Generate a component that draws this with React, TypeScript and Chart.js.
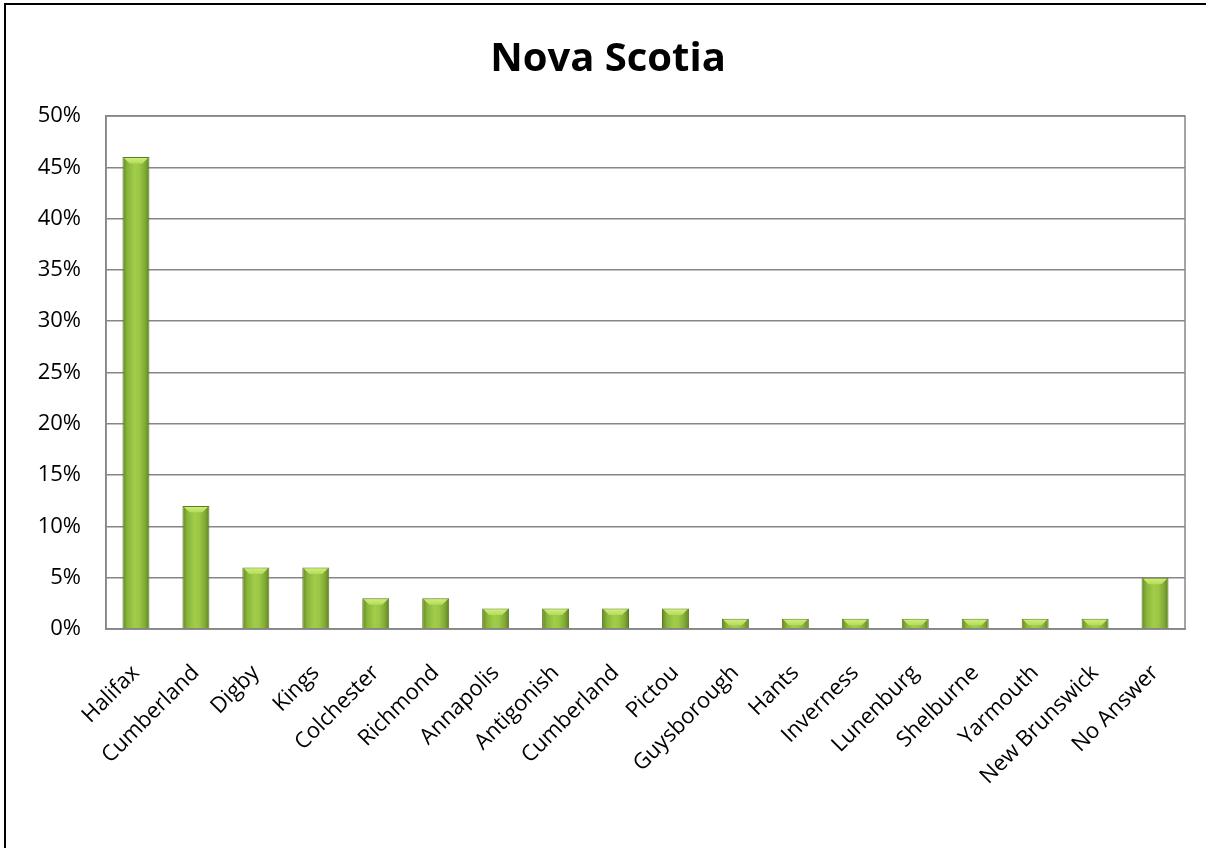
import React, { useEffect, useRef } from "react";
import { Chart, registerables } from "chart.js";

Chart.register(...registerables);

const categories = [
  "Halifax",
  "Cumberland",
  "Digby",
  "Kings",
  "Colchester",
  "Richmond",
  "Annapolis",
  "Antigonish",
  "Cumberland",
  "Pictou",
  "Guysborough",
  "Hants",
  "Inverness",
  "Lunenburg",
  "Shelburne",
  "Yarmouth",
  "New Brunswick",
  "No Answer",
];

const percentValues = [46, 12, 6, 6, 3, 3, 2, 2, 2, 2, 1, 1, 1, 1, 1, 1, 1, 5];

const titleText = "Nova Scotia";
const yMax = 50;
const yStep = 5;

const FONT = "'Open Sans', 'DejaVu Sans', sans-serif";
const BAR_FRACTION = 0.45;

const bevelPlugin = {
  id: "bevelTop",
  afterDatasetsDraw(chart: any) {
    const meta = chart.getDatasetMeta(0);
    const ctx = chart.ctx;
    ctx.save();
    meta.data.forEach((el: any) => {
      const p = el.getProps(["x", "y", "width", "base"], true);
      const w = p.width;
      const left = p.x - w / 2;
      const right = p.x + w / 2;
      const top = p.y;
      const h = Math.min(w * 0.24, Math.abs(p.base - p.y) - 3);
      if (h <= 0) return;
      const g = ctx.createLinearGradient(0, top, 0, top + h);
      g.addColorStop(0, "#d4f07e");
      g.addColorStop(1, "#b3dc5a");
      ctx.fillStyle = g;
      ctx.beginPath();
      ctx.moveTo(left + 1.5, top + 1);
      ctx.lineTo(right - 1.5, top + 1);
      ctx.lineTo(p.x + w * 0.24, top + h);
      ctx.lineTo(p.x - w * 0.24, top + h);
      ctx.closePath();
      ctx.fill();
    });
    ctx.restore();
  },
};

const frameBorderPlugin = {
  id: "plotFrame",
  afterDraw(chart: any) {
    const { left, top, right, bottom } = chart.chartArea;
    const ctx = chart.ctx;
    ctx.save();
    ctx.strokeStyle = "#868686";
    ctx.lineWidth = 1.5;
    ctx.strokeRect(left, top, right - left, bottom - top);
    // outer frame of the chart object (top and left edges)
    ctx.strokeStyle = "#000";
    ctx.lineWidth = 2;
    ctx.beginPath();
    ctx.moveTo(4, 4);
    ctx.lineTo(chart.width, 4);
    ctx.moveTo(5, 4);
    ctx.lineTo(5, chart.height);
    ctx.stroke();
    ctx.restore();
  },
};

export default function App() {
  const canvasRef = useRef<HTMLCanvasElement | null>(null);

  useEffect(() => {
    if (!canvasRef.current) return;
    Chart.defaults.color = "#000";
    const chart = new Chart(canvasRef.current, {
      type: "bar",
      data: {
        labels: categories,
        datasets: [
          {
            data: percentValues,
            backgroundColor: (c: any) => {
              const ch = c.chart;
              const xs = ch.scales && ch.scales.x;
              if (!xs || !ch.chartArea) return "#8fbb3e";
              const x = xs.getPixelForValue(c.dataIndex);
              const catW = (ch.chartArea.right - ch.chartArea.left) / categories.length;
              const w = catW * BAR_FRACTION;
              const g = ch.ctx.createLinearGradient(x - w / 2, 0, x + w / 2, 0);
              g.addColorStop(0, "#648624");
              g.addColorStop(0.18, "#88b53a");
              g.addColorStop(0.45, "#a2cd4a");
              g.addColorStop(0.62, "#9cc746");
              g.addColorStop(0.85, "#7ea834");
              g.addColorStop(1, "#5e7f22");
              return g;
            },
            borderColor: "#5b7a22",
            borderWidth: 1,
            barPercentage: BAR_FRACTION,
            categoryPercentage: 1,
          },
        ],
      },
      options: {
        animation: false,
        responsive: true,
        maintainAspectRatio: false,
        layout: { padding: { left: 10, right: 0, top: 0, bottom: 0 } },
        plugins: {
          legend: { display: false },
          tooltip: { enabled: false },
          title: {
            display: true,
            text: titleText,
            color: "#000",
            font: { family: FONT, size: 40, weight: "bold", lineHeight: 1.2 },
            padding: { top: 36, bottom: 32 },
          },
        },
        scales: {
          x: {
            grid: { display: false, drawTicks: false },
            border: { display: true, color: "#868686", width: 1.5 },
            ticks: {
              autoSkip: false,
              maxRotation: 45,
              minRotation: 45,
              padding: 31,
              color: "#000",
              font: { family: FONT, size: 22 },
            },
            afterFit(scale: any) {
              scale.height = 848 - 629;
            },
          },
          y: {
            min: 0,
            max: yMax,
            ticks: {
              stepSize: yStep,
              padding: 25,
              color: "#000",
              font: { family: FONT, size: 22 },
              callback: (v: any) => v + "%",
            },
            grid: { color: "#868686", lineWidth: 1.5, drawTicks: false },
            border: { display: true, color: "#868686", width: 1.5 },
            afterFit(scale: any) {
              scale.width = 96;
            },
          },
          yRight: {
            position: "right",
            display: true,
            grid: { display: false, drawTicks: false },
            border: { display: false },
            ticks: { display: false },
            afterFit(scale: any) {
              scale.width = 21;
            },
          },
        },
      },
      plugins: [bevelPlugin, frameBorderPlugin],
    });
    return () => chart.destroy();
  }, []);

  return (
    <div
      style={{
        position: "fixed",
        left: 0,
        top: 0,
        width: 1206,
        height: 848,
        background: "#fff",
        overflow: "hidden",
      }}
    >
      <canvas ref={canvasRef} />
    </div>
  );
}
